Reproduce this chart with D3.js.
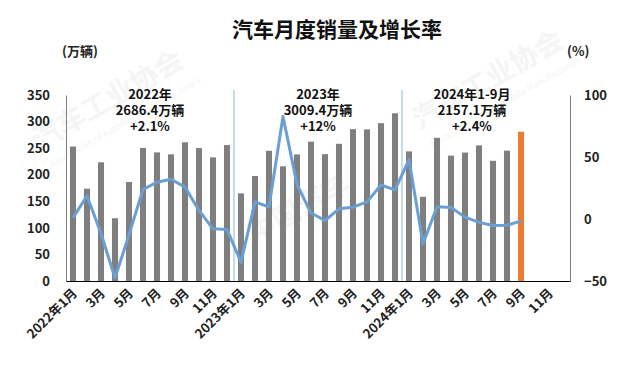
<!DOCTYPE html>
<html>
<head>
<meta charset="utf-8">
<script src="https://cdn.jsdelivr.net/npm/d3@7"></script>
<style>
  body { margin: 0; background: #fff; }
  svg { display: block; font-family: "Noto Sans CJK SC", "Noto Sans", sans-serif; }
</style>
</head>
<body>
<script>
const W = 633, H = 381;

// monthly slots Jan 2022 .. Dec 2024
const years = [2022, 2023, 2024];
const months = [];
years.forEach(y => { for (let m = 1; m <= 12; m++) months.push(y + '-' + m); });

// sales, 10k vehicles (Jan 2022 .. Sep 2024)
const sales = [
  253.1, 173.7, 223.4, 118.1, 186.2, 250.2, 242.0, 238.3, 261.0, 250.1, 232.6, 255.9,
  164.9, 197.6, 245.1, 215.9, 238.2, 262.2, 238.7, 258.2, 285.8, 285.3, 297.0, 315.6,
  243.9, 158.4, 269.4, 235.9, 241.7, 255.2, 226.2, 245.3, 280.9
];
// year-on-year growth, %
const growth = [
  0.9, 18.7, -11.7, -47.6, -12.6, 23.8, 29.7, 32.1, 25.7, 6.9, -7.9, -8.4,
  -35.0, 13.8, 9.7, 82.7, 27.9, 4.8, -1.2, 8.2, 9.5, 13.8, 27.4, 23.5,
  47.9, -19.9, 9.9, 9.3, 1.5, -2.7, -5.2, -5.0, -1.7
];
const leftTicks = [0, 50, 100, 150, 200, 250, 300, 350];
const rightTicks = [-50, 0, 50, 100];
const notes = [
  { at: 5.5, lines: ['2022年', '2686.4万辆', '+2.1%'] },
  { at: 17.5, lines: ['2023年', '3009.4万辆', '+12%'] },
  { at: 28.5, lines: ['2024年1-9月', '2157.1万辆', '+2.4%'] }
];

const pLeft = 66, pRight = 570, pTop = 95, pBottom = 281;

const svg = d3.select('body').append('svg')
  .attr('width', W).attr('height', H);

// faint watermark
const wm = svg.append('g').attr('fill', '#f5f5f5').attr('font-weight', 700);
[[40, 150], [420, 130]].forEach(([x, y]) => {
  wm.append('text').attr('transform', `translate(${x},${y}) rotate(-30)`)
    .attr('font-size', 28).text('汽车工业协会');
  wm.append('text').attr('transform', `translate(${x + 12},${y + 18}) rotate(-30)`)
    .attr('font-size', 9).attr('font-weight', 400).text('Association of Automobile Manufacturers');
});
wm.append('text').attr('transform', 'translate(255,245) rotate(-30)')
  .attr('font-size', 28).text('中国汽车');

const x = d3.scaleBand().domain(months).range([pLeft, pRight])
  .paddingInner(0.57).paddingOuter(0.285);
const y = d3.scaleLinear().domain([0, 350]).range([pBottom, pTop]);
const y2 = d3.scaleLinear().domain([-50, 100]).range([pBottom, pTop]);
const cx = i => x(months[i]) + x.bandwidth() / 2;

// year dividers
[12, 24].forEach(i => {
  const xx = x(months[i]) - x.step() * x.paddingInner() / 2;
  svg.append('line').attr('x1', xx).attr('x2', xx)
    .attr('y1', pTop - 5).attr('y2', pBottom)
    .attr('stroke', '#9dc3e6').attr('stroke-width', 1.2);
});

// bars
svg.append('g').selectAll('rect').data(sales).join('rect')
  .attr('x', (d, i) => x(months[i]))
  .attr('width', x.bandwidth())
  .attr('y', d => y(d))
  .attr('height', d => y(0) - y(d))
  .attr('fill', (d, i) => i === sales.length - 1 ? '#ed7d31' : '#7f7f7f');

// growth line
svg.append('path').datum(growth)
  .attr('fill', 'none').attr('stroke', '#6a9fd4').attr('stroke-width', 3)
  .attr('stroke-linejoin', 'round')
  .attr('d', d3.line().x((d, i) => cx(i)).y(d => y2(d)));

// axes
const axL = svg.append('g').attr('transform', `translate(${pLeft},0)`)
  .call(d3.axisLeft(y).tickValues(leftTicks).tickSize(0).tickPadding(16));
const axR = svg.append('g').attr('transform', `translate(${pRight},0)`)
  .call(d3.axisRight(y2).tickValues(rightTicks).tickSize(0).tickPadding(14));
const axB = svg.append('g').attr('transform', `translate(0,${pBottom})`)
  .call(d3.axisBottom(x).tickSize(0).tickFormat(''));
axL.select('.domain').attr('stroke', '#7f7f7f');
axR.select('.domain').attr('stroke', '#7f7f7f');
axB.select('.domain').attr('stroke', '#000').attr('stroke-width', 1.2);
[axL, axR].forEach(a => a.selectAll('text')
  .attr('font-size', 13).attr('font-weight', 700).attr('fill', '#222')
  .attr('font-family', '"Noto Sans CJK SC", sans-serif'));

// x labels, every other month
const xl = svg.append('g').attr('font-size', 13).attr('font-weight', 700).attr('fill', '#222');
months.forEach((m, i) => {
  if (i % 2) return;
  const mo = i % 12 + 1;
  const label = mo === 1 ? `${years[Math.floor(i / 12)]}年1月` : `${mo}月`;
  xl.append('text')
    .attr('transform', `translate(${cx(i) + 5},${pBottom + 13}) rotate(-45)`)
    .attr('text-anchor', 'end')
    .text(label);
});

// title and units
svg.append('text').attr('x', 337).attr('y', 37).attr('text-anchor', 'middle')
  .attr('font-size', 21).attr('font-weight', 700).attr('fill', '#111')
  .text('汽车月度销量及增长率');
svg.append('text').attr('x', 62).attr('y', 56)
  .attr('font-size', 13).attr('font-weight', 700).attr('fill', '#222').text('(万辆)');
svg.append('text').attr('x', 567).attr('y', 56)
  .attr('font-size', 13).attr('font-weight', 700).attr('fill', '#222').text('(%)');

// yearly notes
notes.forEach(n => {
  const t = svg.append('text').attr('text-anchor', 'middle')
    .attr('font-size', 13).attr('font-weight', 700).attr('fill', '#111');
  n.lines.forEach((s, k) => {
    t.append('tspan').attr('x', x(months[0]) + x.bandwidth() / 2 + n.at * x.step())
      .attr('y', 99 + k * 16).text(s);
  });
});
</script>
</body>
</html>
